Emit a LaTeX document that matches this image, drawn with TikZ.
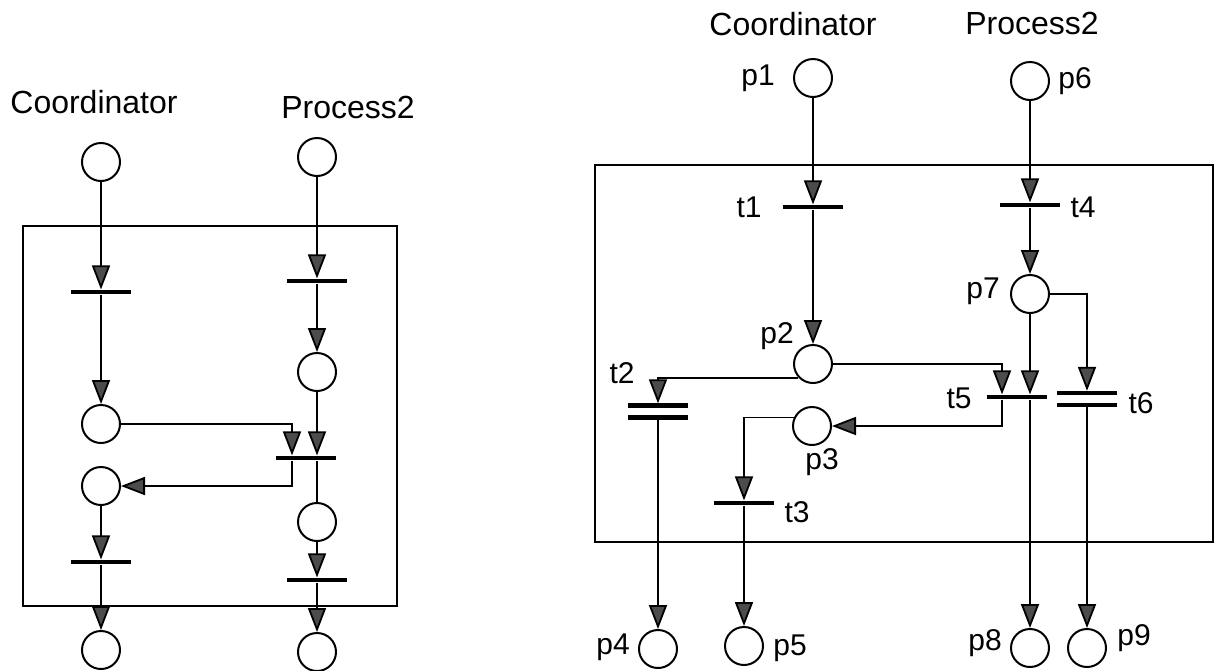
\documentclass[tikz,border=0pt]{standalone}
\usepackage{fontspec}
\setmainfont{Liberation Sans}
\usetikzlibrary{arrows.meta,calc}
\tikzset{
  place/.style={circle, draw, line width=1pt, minimum size=19pt, inner sep=0pt},
  trans/.style={rectangle, fill=black, minimum width=30pt, minimum height=2.2pt, inner sep=0pt},
  dtrans/.style={rectangle, minimum width=30pt, minimum height=7.8pt, inner sep=0pt},
  flow/.style={-{Triangle[length=12pt,width=9pt,fill=black!70]}, line width=0.9pt},
  boxline/.style={line width=1pt},
  title/.style={font=\fontsize{16}{19}\selectfont},
  lbl/.style={font=\fontsize{15}{18}\selectfont}
}

\begin{document}
\begin{tikzpicture}[x=0.5pt,y=-0.5pt]
  \useasboundingbox (0,0) rectangle (1220,670);

  % ===== left net =====
  \node[title] (lcoord) at (94,102) {Coordinator};
  \node[title] (lproc) at (348,107) {Process2};
  \draw[boxline] (23,226) rectangle (397,606);
  \node[place] (a1) at (101,162) {};
  \node[trans] (ta1) at (101,292) {};
  \node[place] (a2) at (101,424) {};
  \node[place] (a3) at (101,486) {};
  \node[trans] (ta2) at (101,562) {};
  \node[place] (a4) at (101,650) {};
  \node[place] (b1) at (317,157) {};
  \node[trans] (tb1) at (317,281) {};
  \node[place] (b2) at (317,372) {};
  \node[trans] (tj) at (306,458) {};
  \node[place] (b3) at (317,522) {};
  \node[trans] (tb2) at (317,580) {};
  \node[place] (b4) at (317,652) {};
  \draw[flow] (a1) -- (ta1);
  \draw[flow] (ta1) -- (a2);
  \draw[flow] (a3) -- (ta2);
  \draw[flow] (ta2) -- (a4);
  \draw[flow] (b1) -- (tb1);
  \draw[flow] (tb1) -- (b2);
  \draw[flow] (b2.south) -- (b2.south |- tj.north);
  \draw[flow] (a2.east) -| ($(tj.north)+(-14,0)$);
  \draw[flow] ($(tj.south)+(-14,0)$) |- (a3.east);
  \draw[boxline] (b3 |- tj.south) -- (b3.north);
  \draw[flow] (b3) -- (tb2);
  \draw[flow] (tb2) -- (b4);

  % ===== right net =====
  \node[title] (rcoord) at (793,24) {Coordinator};
  \node[title] (rproc) at (1032,23) {Process2};
  \draw[boxline] (595,165) rectangle (1213,542);
  \node[place] (p1) at (813,78) {};
  \node[place] (p6) at (1030,81) {};
  \node[trans] (t1) at (813,207) {};
  \node[trans] (t4) at (1030,205) {};
  \node[place] (p7) at (1030,294) {};
  \node[place] (p2) at (813,364) {};
  \node[dtrans] (t2) at (658,411.5) {};
  \node[place] (p3) at (812,426) {};
  \node[trans] (t3) at (744,503) {};
  \node[trans] (t5) at (1017,397) {};
  \node[dtrans] (t6) at (1087,399) {};
  \node[place] (p4) at (658,649) {};
  \node[place] (p5) at (744,646) {};
  \node[place] (p8) at (1030,648) {};
  \node[place] (p9) at (1087,648) {};
  % double bars
  \fill (t2.north west) rectangle ($(t2.north east)+(0,4.4)$);
  \fill (t2.south west) rectangle ($(t2.south east)+(0,-4.4)$);
  \fill (t6.north west) rectangle ($(t6.north east)+(0,4.4)$);
  \fill (t6.south west) rectangle ($(t6.south east)+(0,-4.4)$);
  % labels
  \node[lbl] (p1l) at (758,78) {p1};
  \node[lbl] (p6l) at (1075,81) {p6};
  \node[lbl] (t1l) at (749,207) {t1};
  \node[lbl] (t4l) at (1083,207) {t4};
  \node[lbl] (p7l) at (983,291) {p7};
  \node[lbl] (p2l) at (777,336) {p2};
  \node[lbl] (t2l) at (622,373) {t2};
  \node[lbl] (p3l) at (822,462) {p3};
  \node[lbl] (t3l) at (797,512) {t3};
  \node[lbl] (t5l) at (959,398) {t5};
  \node[lbl] (t6l) at (1141,403) {t6};
  \node[lbl] (p4l) at (613,647) {p4};
  \node[lbl] (p5l) at (790,648) {p5};
  \node[lbl] (p8l) at (985,643) {p8};
  \node[lbl] (p9l) at (1134,638) {p9};
  % arcs
  \draw[flow] (p1) -- (t1);
  \draw[flow] (t1) -- (p2);
  \draw[flow] (p6) -- (t4);
  \draw[flow] (t4) -- (p7);
  \draw[flow] (p7.south) -- (p7.south |- t5.north);
  \draw[flow] (p7.east) -| (t6.north);
  \draw[flow] (p2.east) -| ($(t5.north)+(-15,0)$);
  \draw[flow] ($(t5.south)+(-15,0)$) |- (p3.east);
  \draw[flow] (p8 |- t5.south) -- (p8.north);
  \draw[flow] (p2.223) -| (t2.north);
  \draw[flow] (t2.south) -- (p4.north);
  \draw[flow] (p3.155) -| (t3.north);
  \draw[flow] (t3) -- (p5);
  \draw[flow] (t6.south) -- (p9.north);
\end{tikzpicture}
\end{document}
